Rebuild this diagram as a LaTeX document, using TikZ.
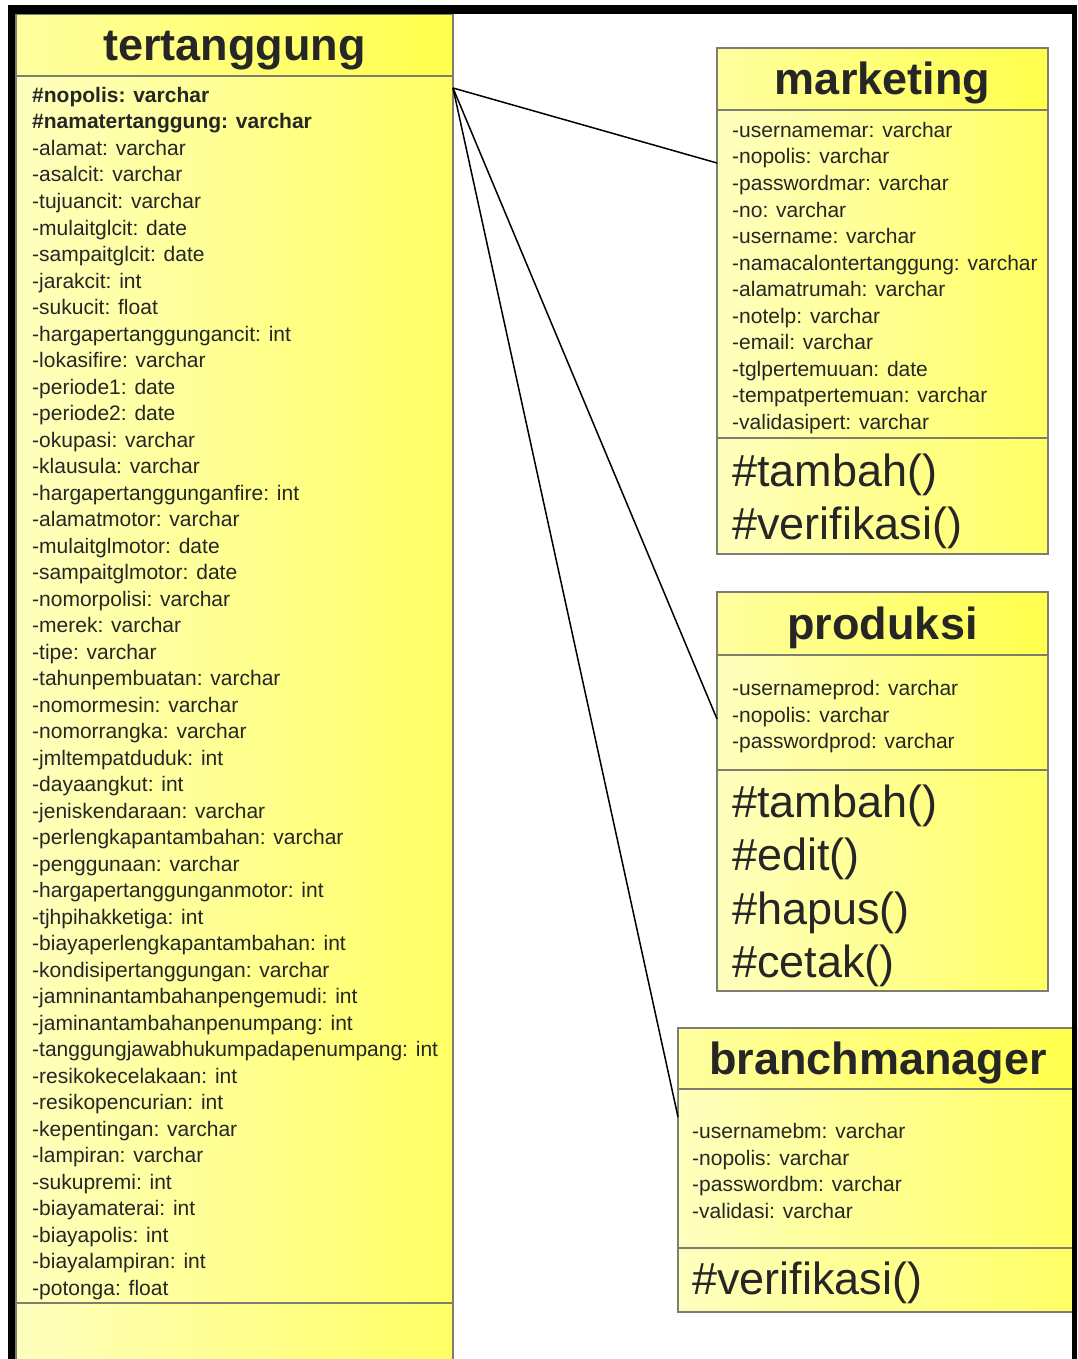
\documentclass[tikz,border=0pt]{standalone}
\usepackage{fontspec}
\setmainfont{Liberation Sans}
\usetikzlibrary{positioning}
\definecolor{headlight}{RGB}{255,255,160}
\definecolor{headdeep}{RGB}{255,255,75}
\definecolor{bodylight}{RGB}{255,255,190}
\definecolor{bodydeep}{RGB}{255,255,100}
\definecolor{umlline}{RGB}{125,125,112}
\newcommand*{\titlefont}{\fontsize{45}{54}\selectfont\bfseries}
\newcommand*{\attrfont}{\fontsize{21}{26.5}\selectfont}
\newcommand*{\methfont}{\fontsize{45}{53}\selectfont}
\tikzstyle{compartment} = [draw=umlline, line width=2.5pt, rectangle, outer sep=0pt, inner sep=0pt]
\tikzstyle{classhead} = [compartment, left color=headlight, right color=headdeep, minimum height=62pt, font=\titlefont, text=black!85, text height=33pt, text depth=1pt]
\tikzstyle{classbody} = [compartment, left color=bodylight, right color=bodydeep]
\tikzstyle{attrrow} = [anchor=base west, inner sep=0pt, font=\attrfont, text=black!85]
\tikzstyle{methrow} = [anchor=base west, inner sep=0pt, font=\methfont, text=black!85]
\tikzstyle{assocline} = [line width=1.5pt, black]

\begin{document}
\begin{tikzpicture}[x=1pt, y=-1pt]
    \useasboundingbox (0,0) rectangle (1077,1359);
    \clip (0,0) rectangle (1077,1359);

    % tertanggung.
    \node (tert) [classhead, minimum width=437pt, anchor=north west] at (16,14) {tertanggung};
    \node (tertattr) [classbody, minimum width=437pt, minimum height=1227pt, below=0pt of tert] {};
    \node (tertmeth) [classbody, minimum width=437pt, minimum height=80pt, below=0pt of tertattr] {};

    \node (tertrow1) [attrrow, font=\attrfont\bfseries] at (32,102.5) {\#nopolis: varchar};
    \node (tertrow2) [attrrow, font=\attrfont\bfseries] at (32,129) {\#namatertanggung: varchar};
    \foreach \t [count=\i from 3] in {-alamat: varchar, -asalcit: varchar, -tujuancit: varchar,
        -mulaitglcit: date, -sampaitglcit: date, -jarakcit: int, -sukucit: float,
        -hargapertanggungancit: int, -lokasifire: varchar, -periode1: date, -periode2: date,
        -okupasi: varchar, -klausula: varchar, -hargapertanggunganfire: int,
        -alamatmotor: varchar, -mulaitglmotor: date, -sampaitglmotor: date,
        -nomorpolisi: varchar, -merek: varchar, -tipe: varchar, -tahunpembuatan: varchar,
        -nomormesin: varchar, -nomorrangka: varchar, -jmltempatduduk: int, -dayaangkut: int,
        -jeniskendaraan: varchar, -perlengkapantambahan: varchar, -penggunaan: varchar,
        -hargapertanggunganmotor: int, -tjhpihakketiga: int, -biayaperlengkapantambahan: int,
        -kondisipertanggungan: varchar, -jamninantambahanpengemudi: int,
        -jaminantambahanpenumpang: int, -tanggungjawabhukumpadapenumpang: int,
        -resikokecelakaan: int, -resikopencurian: int, -kepentingan: varchar,
        -lampiran: varchar, -sukupremi: int, -biayamaterai: int, -biayapolis: int,
        -biayalampiran: int, -potonga: float} {
        \node (tertrow\i) [attrrow] at (32,{102.5+26.5*(\i-1)}) {\t};
    }

    % marketing.
    \node (mark) [classhead, minimum width=331pt, anchor=north west] at (717,48) {marketing};
    \node (markattr) [classbody, minimum width=331pt, minimum height=328pt, below=0pt of mark] {};
    \node (markmeth) [classbody, minimum width=331pt, minimum height=116pt, below=0pt of markattr] {};

    \foreach \t [count=\i] in {-usernamemar: varchar, -nopolis: varchar, -passwordmar: varchar,
        -no: varchar, -username: varchar, -namacalontertanggung: varchar,
        -alamatrumah: varchar, -notelp: varchar, -email: varchar, -tglpertemuuan: date,
        -tempatpertemuan: varchar, -validasipert: varchar} {
        \node (markrow\i) [attrrow] at (732,{137.5+26.5*(\i-1)}) {\t};
    }
    \foreach \m [count=\i] in {\#tambah(), \#verifikasi()} {
        \node (markop\i) [methrow] at (732,{486+53*(\i-1)}) {\m};
    }

    % produksi.
    \node (prod) [classhead, minimum width=331pt, minimum height=63pt, anchor=north west] at (717,592) {produksi};
    \node (prodattr) [classbody, minimum width=331pt, minimum height=115pt, below=0pt of prod] {};
    \node (prodmeth) [classbody, minimum width=331pt, minimum height=221pt, below=0pt of prodattr] {};

    \foreach \t [count=\i] in {-usernameprod: varchar, -nopolis: varchar, -passwordprod: varchar} {
        \node (prodrow\i) [attrrow] at (732,{695.5+26.5*(\i-1)}) {\t};
    }
    \foreach \m [count=\i] in {\#tambah(), \#edit(), \#hapus(), \#cetak()} {
        \node (prodop\i) [methrow] at (732,{817.5+53.3*(\i-1)}) {\m};
    }

    % branchmanager.
    \node (bm) [classhead, minimum width=400pt, minimum height=61pt, anchor=north west] at (678,1028) {branchmanager};
    \node (bmattr) [classbody, minimum width=400pt, minimum height=159pt, below=0pt of bm] {};
    \node (bmmeth) [classbody, minimum width=400pt, minimum height=64pt, below=0pt of bmattr] {};

    \foreach \t [count=\i] in {-usernamebm: varchar, -nopolis: varchar, -passwordbm: varchar,
        -validasi: varchar} {
        \node (bmrow\i) [attrrow] at (692,{1138.5+26.5*(\i-1)}) {\t};
    }
    \node (bmop1) [methrow] at (692,1294.5) {\#verifikasi()};

    % Associations.
    \coordinate (hub) at ([yshift=-12pt]tertattr.north east);
    \draw [assocline] (hub) -- ([yshift=-53pt]markattr.north west);
    \draw [assocline] (hub) -- ([yshift=-64pt]prodattr.north west);
    \draw [assocline] (hub) -- ([yshift=-28pt]bmattr.north west);

    % Frame.
    \fill [black] (8,5) rectangle (15,1359);
    \fill [black] (8,5) rectangle (1077,14);
    \fill [black] (1072,5) rectangle (1077,1359);
\end{tikzpicture}
\end{document}
